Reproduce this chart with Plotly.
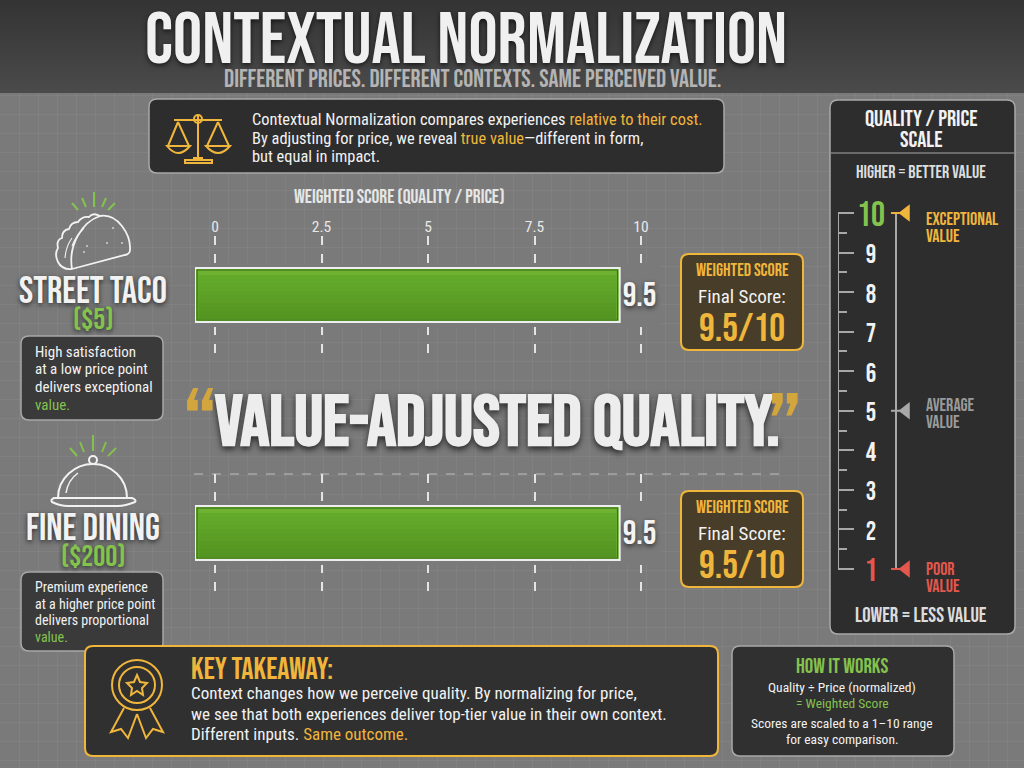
import plotly.graph_objects as go

# data
dishes = ["Street Taco", "Fine Dining"]
scores = [9.5, 9.5]
axis_ticks = [0, 2.5, 5, 7.5, 10]
axis_labels = ["0", "2.5", "5", "7.5", "10"]
scale_values = [1, 2, 3, 4, 5, 6, 7, 8, 9, 10]
flag_values = [10, 5, 1]

GREEN = "#84c24e"
YELLOW = "#f0b63c"
RED = "#e4574c"
GREY = "#a8a8a8"
PANEL = "#2d2d2d"
BG = "#7a7a7a"
HEAD = "Bebas Neue, Oswald, Roboto Condensed, Open Sans Condensed"
BODY = "Roboto Condensed, Liberation Sans Narrow"
W, H = 1024, 768
SHADOW = "0px 2px 5px rgba(0,0,0,0.65)"

shapes = []
notes = []


def text(x, y, s, size, color="#f2f2f2", anchor="center", family=BODY, weight=400, shadow=None):
    font = dict(family=family, size=size, color=color, weight=weight)
    if shadow:
        font["shadow"] = shadow
    if anchor == "left":
        x -= 2  # annotation padding
    if family == HEAD:
        y += 1.5  # caps of this font sit high in the line box
    notes.append(dict(x=x, y=y, xref="x", yref="y", text=s, showarrow=False, xanchor=anchor,
                      yanchor="middle", font=font))


def rbox(x0, y0, x1, y1, fill, line=GREY, width=1.5, r=8):
    path = (f"M {x0+r},{y0} L {x1-r},{y0} Q {x1},{y0} {x1},{y0+r} L {x1},{y1-r} Q {x1},{y1} {x1-r},{y1} "
            f"L {x0+r},{y1} Q {x0},{y1} {x0},{y1-r} L {x0},{y0+r} Q {x0},{y0} {x0+r},{y0} Z")
    shapes.append(dict(type="path", path=path, xref="x", yref="y", fillcolor=fill,
                       line=dict(color=line, width=width), layer="between"))


def icon(path, color, width=2, fill="rgba(0,0,0,0)"):
    shapes.append(dict(type="path", path=path, xref="x", yref="y", fillcolor=fill,
                       line=dict(color=color, width=width), layer="between"))


def circle(cx, cy, r, color, width=2, fill="rgba(0,0,0,0)"):
    shapes.append(dict(type="circle", x0=cx - r, x1=cx + r, y0=cy - r, y1=cy + r, xref="x", yref="y",
                       fillcolor=fill, line=dict(color=color, width=width), layer="between"))


# header band, dark at the top
for i in range(23):
    v = 52 + i
    shapes.append(dict(type="rect", x0=0, x1=W, y0=i * 4, y1=(i + 1) * 4 + 1, xref="x", yref="y",
                       fillcolor=f"rgb({v},{v},{v})", line_width=0, layer="between"))

text(466, 39, "CONTEXTUAL NORMALIZATION", 72.8, "#f0f0f0", family=HEAD, shadow=SHADOW)
text(473, 78, "DIFFERENT PRICES. DIFFERENT CONTEXTS. SAME PERCEIVED VALUE.", 25, "#b4b4b4", family=HEAD)

# intro panel
rbox(149, 99, 724, 173, PANEL)
c = YELLOW
icon("M 198,116 L 198,158 M 193,158 L 203,158 M 185,163 L 212,163 L 212,160 L 185,160 Z M 174,120 L 222,120", c, 2)
circle(198, 119, 4, c, 2)
icon("M 178,122 L 168,146 M 178,122 L 189,146 M 167,146 L 190,146 Q 178,160 167,146 Z", c, 2)
icon("M 218,122 L 207,146 M 218,122 L 229,146 M 206,146 L 230,146 Q 218,160 206,146 Z", c, 2)
text(252, 119, f"Contextual Normalization compares experiences <span style='color:{YELLOW}'>relative to their cost.</span>", 16.4, anchor="left")
text(252, 138, f"By adjusting for price, we reveal <span style='color:{YELLOW}'>true value</span>—different in form,", 16.4, anchor="left")
text(252, 156, "but equal in impact.", 16.4, anchor="left")

text(399, 195, "WEIGHTED SCORE (QUALITY / PRICE)", 19.5, "#e6e6e6", family=HEAD)

# taco icon
for seg in ["M 94,192 L 94,207", "M 82,198 L 86,207", "M 106,198 L 102,207", "M 72,203 L 78,210", "M 115,203 L 108,210"]:
    icon(seg, GREEN, 2)
icon("M 72,269 C 68,245 82,222 100,216 C 118,213 131,235 130,250 Q 130,254 125,255 L 72,269", "#f2f2f2", 1.8)
icon("M 72,269 Q 62,270 58,262 Q 54,254 58,248 Q 56,240 62,238 Q 62,230 69,229 Q 71,222 78,222 Q 82,216 89,217 Q 93,212 100,216", "#f2f2f2", 1.8)
icon("M 65,258 Q 66,246 72,238 M 72,246 Q 76,236 84,228", "#f2f2f2", 1.1)
for dot_x, dot_y in [(87, 246), (107, 243), (122, 243), (113, 228), (84, 252)]:
    circle(dot_x, dot_y, 0.6, "#dddddd", 1)

text(93, 290, "STREET TACO", 38, "#f2f2f2", family=HEAD, shadow=SHADOW)
text(93, 318, "($5)", 30, GREEN, family=HEAD, shadow=SHADOW)
rbox(21, 336, 163, 420, "#3a3a3a")
text(35, 352, "High satisfaction", 15, anchor="left")
text(35, 369, "at a low price point", 15, anchor="left")
text(35, 387, "delivers exceptional", 15, anchor="left")
text(35, 405, "value.", 15, GREEN, anchor="left")

# cloche icon
for seg in ["M 93,435 L 93,451", "M 80,442 L 84,452", "M 106,442 L 102,452", "M 70,448 L 77,456", "M 116,448 L 108,456"]:
    icon(seg, GREEN, 2)
icon("M 58,498 C 58,478 75,464 93,464 C 111,464 127,478 127,498", "#f2f2f2", 2)
circle(93, 460, 4, "#f2f2f2", 2)
icon("M 78,473 Q 68,480 66,493", "#f2f2f2", 1.5)
icon("M 54,498 L 132,498 Q 137,500 135,502 Q 125,506 118,506 L 68,506 Q 60,506 52,502 Q 50,500 54,498 Z", "#f2f2f2", 2)

text(93, 527, "FINE DINING", 38, "#f2f2f2", family=HEAD, shadow=SHADOW)
text(93, 555, "($200)", 30, GREEN, family=HEAD, shadow=SHADOW)
rbox(21, 572, 163, 651, "#3a3a3a")
text(35, 587, "Premium experience", 14, anchor="left")
text(35, 604, "at a higher price point", 14, anchor="left")
text(35, 620, "delivers proportional", 14, anchor="left")
text(35, 637, "value.", 14, GREEN, anchor="left")

# slogan
text(497, 421.5, "VALUE-ADJUSTED QUALITY.", 72, "#ededed", family=HEAD, weight=700, shadow="0px 3px 6px rgba(0,0,0,0.7)")
text(200, 426.5, "“", 100, "#d2a63c", family=HEAD)
text(785, 431.5, "”", 100, "#d2a63c", family=HEAD)
shapes.append(dict(type="line", x0=194, x1=786, y0=474, y1=474, xref="x", yref="y",
                   line=dict(color="#bdbdbd", width=1.2, dash="dash"), layer="between"))

# score boxes
for top in (254, 491):
    rbox(681, top, 803, top + 96, "#473d28", YELLOW, 2)
    text(742, top + 15, "WEIGHTED SCORE", 18, YELLOW, family=HEAD)
    text(742, top + 42, "Final Score:", 19)
    text(742, top + 73, "9.5/10", 39.5, YELLOW, family=HEAD)

# scale panel
rbox(830, 100, 1015, 634, PANEL)
shapes.append(dict(type="line", x0=831, x1=1014, y0=153, y1=153, xref="x", yref="y",
                   line=dict(color=GREY, width=1), layer="between"))
text(921, 117, "QUALITY / PRICE", 22.8, family=HEAD)
text(921, 138, "SCALE", 22.8, family=HEAD)
text(921, 171, "HIGHER = BETTER VALUE", 18, "#dcdcdc", family=HEAD)
text(921, 614, "LOWER = LESS VALUE", 21, "#dcdcdc", family=HEAD)
text(926, 218, "EXCEPTIONAL", 18, YELLOW, "left", HEAD)
text(926, 235, "VALUE", 18, YELLOW, "left", HEAD)
text(926, 404, "AVERAGE", 18, "#9a9a9a", "left", HEAD)
text(926, 421, "VALUE", 18, "#9a9a9a", "left", HEAD)
text(926, 568, "POOR", 18, RED, "left", HEAD)
text(926, 585, "VALUE", 18, RED, "left", HEAD)

# takeaway panel
rbox(85, 646, 718, 756, "#303030", YELLOW, 2)
circle(137, 685, 25, YELLOW, 2)
circle(137, 685, 18, YELLOW, 2)
icon("M 137,675 L 140,682 L 147,683 L 142,688 L 143,695 L 137,691 L 131,695 L 132,688 L 127,683 L 134,682 Z", YELLOW, 2)
icon("M 124,708 L 111,732 L 121,729 L 128,738 L 137,714", YELLOW, 2)
icon("M 150,708 L 163,732 L 153,729 L 146,738 L 137,714", YELLOW, 2)
text(191, 668, "KEY TAKEAWAY:", 30.5, YELLOW, "left", HEAD)
text(191, 693, "Context changes how we perceive quality. By normalizing for price,", 17, anchor="left")
text(191, 714, "we see that both experiences deliver top-tier value in their own context.", 17, anchor="left")
text(191, 734, f"Different inputs. <span style='color:{YELLOW}'>Same outcome.</span>", 17, anchor="left")

# how it works panel
rbox(732, 646, 954, 756, "#303030")
text(842, 665, "HOW IT WORKS", 21, GREEN, family=HEAD)
text(842, 687, "Quality ÷ Price (normalized)", 13.5)
text(842, 703, "= Weighted Score", 13.5, GREEN)
text(842, 723, "Scores are scaled to a 1–10 range", 13.5)
text(842, 739, "for easy comparison.", 13.5)

fig = go.Figure()

# bars: each chart has its own axes, the score axis has 0 at 215 px and 10 at 641 px
px_per_unit = (641 - 215) / 10
bar_base = (195 - 215) / px_per_unit
x_range = [bar_base, (660 - 215) / px_per_unit]
bar_axes = [("x2", "y2", 236, 362, 268, 322), ("x3", "y3", 474, 592, 506, 560)]
y_ranges = []

for (dish, score, (xa, ya, top, bottom, bar_top, bar_bottom)) in zip(dishes, scores, bar_axes):
    span = bottom - top
    middle = (bar_top + bar_bottom) / 2
    y_ranges.append([(middle - bottom) / span, (middle - top) / span])
    fig.add_trace(go.Bar(y=[dish], x=[score - bar_base], base=bar_base, orientation="h", xaxis=xa, yaxis=ya,
                         marker=dict(color="#66ad2c", line=dict(color="#eeeeee", width=2)),
                         width=(bar_bottom - bar_top) / span, text=[f"{score}"], textposition="outside",
                         cliponaxis=False, textfont=dict(family=HEAD, size=34, color="#f4f4f4", shadow=SHADOW),
                         hoverinfo="skip"))
    # keep the dashed gridlines off the bar edges, shade the bar from light to dark
    shapes.append(dict(type="rect", xref=xa, yref=ya, x0=x_range[0], x1=x_range[1],
                       y0=(middle - bar_bottom - 5) / span, y1=(middle - bar_top + 5) / span,
                       fillcolor=BG, line_width=0, layer="between"))
    for i in range(12):
        shapes.append(dict(type="rect", xref=xa, yref="y", x0=bar_base + 0.08, x1=score - 0.08,
                           y0=bar_top + 3 + i * 4, y1=bar_top + 3 + (i + 1) * 4,
                           fillcolor=f"rgba(30,70,0,{i * 0.022})" if i else "rgba(255,255,120,0.06)",
                           line_width=0, layer="above"))
    shapes.append(dict(type="rect", xref=xa, yref="y", x0=bar_base + 0.05, x1=score - 0.05,
                       y0=bar_top + 2, y1=bar_bottom - 2, line=dict(color="#3d6e1c", width=1), layer="above"))

# scale: value axis with ticks, plus number column, pointer line and flags
num_x, line_x, flag_x = 0, 1, 1.4
axis_x = (838 - 871) / 25
num_nudge = 0.1  # caps of the font sit high, bring the numbers level with their ticks
scale_colors = [RED] + ["#f2f2f2"] * 8 + [GREEN]
scale_sizes = [32] + [26] * 8 + [35]
fig.add_trace(go.Scatter(x=[num_x] * len(scale_values), y=[v - num_nudge for v in scale_values], mode="text",
                         xaxis="x4", yaxis="y4", text=[str(v) for v in scale_values], cliponaxis=False, hoverinfo="skip",
                         textfont=dict(family=HEAD, size=scale_sizes, color=scale_colors)))
for line_pos in (axis_x, line_x):
    fig.add_trace(go.Scatter(x=[line_pos, line_pos], y=[scale_values[0], scale_values[-1]], mode="lines", xaxis="x4", yaxis="y4",
                             line=dict(color=GREY, width=2), cliponaxis=False, hoverinfo="skip"))
flag_colors = [YELLOW, GREY, RED]
for value, colour in zip(flag_values, flag_colors):
    fig.add_trace(go.Scatter(x=[line_x - 0.2, flag_x], y=[value, value], mode="lines", xaxis="x4", yaxis="y4",
                             line=dict(color=colour, width=2), cliponaxis=False, hoverinfo="skip"))
fig.add_trace(go.Scatter(x=[flag_x] * len(flag_values), y=flag_values, mode="markers", xaxis="x4", yaxis="y4",
                         marker=dict(symbol="triangle-left", size=15, color=flag_colors),
                         cliponaxis=False, hoverinfo="skip"))

hidden = dict(showticklabels=False, ticks="", showline=False, zeroline=False, showgrid=False, fixedrange=True)
fig.update_layout(
    width=W, height=H, margin=dict(l=0, r=0, t=0, b=0), showlegend=False,
    paper_bgcolor=BG, plot_bgcolor="rgba(0,0,0,0)", shapes=shapes, annotations=notes,
    # frame in pixels, its grid is the faint background grid
    xaxis=dict(domain=[0, 1], range=[0, W], dtick=19, gridcolor="rgba(255,255,255,0.05)", gridwidth=1,
               showticklabels=False, ticks="", zeroline=False, showline=False, fixedrange=True),
    yaxis=dict(domain=[0, 1], range=[H, 0], dtick=19, gridcolor="rgba(255,255,255,0.05)", gridwidth=1,
               showticklabels=False, ticks="", zeroline=False, showline=False, fixedrange=True),
    xaxis2=dict(domain=[195 / W, 660 / W], range=x_range, anchor="y2", side="top", tickvals=axis_ticks, ticktext=axis_labels,
                ticks="", showgrid=True, griddash="dash", gridcolor="#e4e4e4", gridwidth=1.5, zeroline=False,
                tickfont=dict(family=BODY, size=15.5, color="#e8e8e8"), fixedrange=True),
    yaxis2=dict(domain=[1 - 362 / H, 1 - 236 / H], anchor="x2", range=y_ranges[0], **hidden),
    xaxis3=dict(domain=[195 / W, 660 / W], range=x_range, anchor="y3", tickvals=axis_ticks, ticktext=axis_labels,
                showticklabels=False, ticks="", showgrid=True, griddash="dash", gridcolor="#e4e4e4", gridwidth=1.5,
                zeroline=False, fixedrange=True),
    yaxis3=dict(domain=[1 - 592 / H, 1 - 474 / H], anchor="x3", range=y_ranges[1], **hidden),
    xaxis4=dict(domain=[838 / W, 915 / W], range=[axis_x, (915 - 871) / 25], anchor="y4", **hidden),
    # the range runs past 1 and 10 so the end ticks and the nudged numbers are drawn too; 39.5 px per unit
    yaxis4=dict(domain=[1 - (569 + 5.9) / H, 1 - (213 - 5.9) / H], range=[0.85, 10.15], anchor="x4", side="left", tickvals=scale_values,
                showticklabels=False, ticks="inside", ticklen=16, tickwidth=2, tickcolor=GREY,
                minor=dict(dtick=0.5, ticks="inside", ticklen=9, tickwidth=1.5, tickcolor=GREY, showgrid=False),
                showline=False, showgrid=False, zeroline=False, fixedrange=True),
)
fig.write_html("out.html", config=dict(displayModeBar=False),
               post_script="document.body.style.margin='0';document.body.style.overflow='hidden';")
